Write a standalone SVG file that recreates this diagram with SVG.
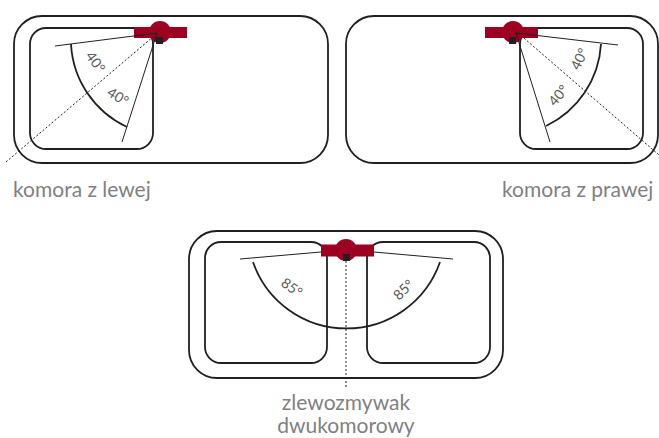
<svg xmlns="http://www.w3.org/2000/svg" width="659" height="438" viewBox="0 0 659 438">
<style>
.b{fill:none;stroke:#231f20;stroke-width:1.8}
.l{fill:none;stroke:#231f20;stroke-width:1}
.d{fill:none;stroke:#231f20;stroke-width:1;stroke-dasharray:2 2}
.r{fill:#9d0020}
.s{fill:#231f20}
text{font-family:"Lato","Liberation Sans",sans-serif;fill:#808084}
.t{font-size:21px}
.a{font-size:14px;fill:#58585a}
</style>
<rect width="659" height="438" fill="#fff"/>
<g id="sink-left">
<rect class="b" x="14" y="16" width="314" height="147" rx="28"/>
<rect class="b" x="30" y="28" width="123" height="121" rx="16"/>
<rect class="r" x="134" y="27" width="53" height="11"/><circle class="r" cx="160" cy="32" r="11"/>
<rect class="s" x="156" y="37" width="7" height="7"/>
<path class="l" d="M55 46L157 33L122 142"/>
<path class="b" d="M71 44A97 97 0 0 0 127 127"/>
<text class="a" transform="translate(85 56) rotate(54)">40°</text>
<text class="a" transform="translate(106 95) rotate(32)">40°</text>
<text class="t" x="13" y="197">komora z lewej</text>
</g>
<g id="sink-right">
<rect class="b" x="346" y="16" width="312" height="147" rx="28"/>
<rect class="b" x="520" y="28" width="123" height="121" rx="16"/>
<rect class="r" x="485" y="27" width="53" height="11"/><circle class="r" cx="513" cy="32" r="11"/>
<rect class="s" x="509" y="37" width="7" height="7"/>
<path class="l" d="M516 33L618 45M516 33L550 142"/>
<path class="b" d="M601 44A97 97 0 0 1 546 126"/>
<text class="a" transform="translate(579 71) rotate(-64)">40°</text>
<text class="a" transform="translate(555 107) rotate(-50)">40°</text>
<text class="t" x="502" y="197">komora z prawej</text>
</g>
<g id="sink-double">
<rect class="b" x="189" y="231" width="314" height="147" rx="28"/>
<rect class="b" x="205" y="242" width="122" height="121" rx="16"/>
<rect class="b" x="367" y="242" width="123" height="121" rx="16"/>
<rect class="r" x="321" y="244.500" width="53" height="12"/><circle class="r" cx="346" cy="250" r="11"/>
<rect class="s" x="343" y="254" width="7" height="7"/>
<path class="l" d="M240 259L321 252M453 259L374 252"/>
<path class="b" d="M253 262A99 99 0 0 0 440 262"/>
<text class="a" transform="translate(280 285) rotate(36)">85°</text>
<text class="a" transform="translate(399 301) rotate(-44)">85°</text>
<text class="t" text-anchor="middle" x="346" y="410">zlewozmywak</text>
<text class="t" text-anchor="middle" x="346" y="433">dwukomorowy</text>
</g>
<g id="connectors">
<path class="d" d="M6 162L154 36"/>
<path class="d" d="M518 33L659 155"/>
<path class="d" d="M346 261V387"/>
</g>
</svg>
